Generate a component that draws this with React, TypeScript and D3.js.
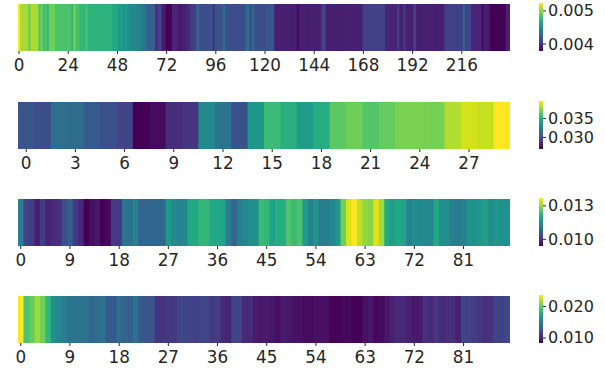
import { scaleBand, scaleLinear, scaleSequential, interpolateViridis, range } from "d3";

const rowA = [
  .00524,.00505,.00505,.00505,.00505,.00489,.00505,.00505,.00505,.00505,
  .00483,.00495,.00478,.00486,.00475,.00492,.00492,.00492,.00483,.00483,
  .00483,.00483,.00483,.00483,.00483,.00483,.00475,.00495,.00481,.00481,
  .00475,.00475,.00475,.00483,.00473,.00473,.00473,.00473,.00473,.00473,
  .00473,.00473,.00473,.00473,.00473,.00473,.00466,.00466,.00466,.00454,
  .00463,.00452,.00460,.00452,.00449,.00447,.00446,.00445,.00444,.00443,
  .00437,.00437,.00428,.00423,.00423,.00423,.00423,.00396,.00408,.00408,
  .00390,.00390,.00379,.00379,.00379,.00394,.00394,.00394,.00388,.00388,
  .00392,.00392,.00396,.00396,.00405,.00405,.00405,.00430,.00414,.00414,
  .00414,.00414,.00414,.00414,.00414,.00399,.00417,.00417,.00417,.00417,
  .00431,.00414,.00414,.00414,.00414,.00414,.00414,.00414,.00414,.00414,
  .00414,.00431,.00431,.00408,.00431,.00414,.00414,.00414,.00414,.00414,
  .00414,.00417,.00417,.00417,.00417,.00392,.00392,.00392,.00392,.00392,
  .00392,.00392,.00392,.00392,.00392,.00392,.00383,.00392,.00392,.00392,
  .00392,.00392,.00392,.00392,.00392,.00392,.00392,.00392,.00408,.00408,
  .00392,.00392,.00392,.00392,.00392,.00392,.00392,.00392,.00392,.00392,
  .00392,.00392,.00392,.00392,.00392,.00392,.00392,.00392,.00407,.00407,
  .00407,.00407,.00407,.00407,.00407,.00407,.00407,.00407,.00407,.00394,
  .00394,.00394,.00394,.00394,.00394,.00408,.00392,.00392,.00405,.00392,
  .00392,.00392,.00392,.00411,.00392,.00392,.00392,.00392,.00392,.00392,
  .00392,.00392,.00392,.00392,.00392,.00392,.00392,.00392,.00407,.00407,
  .00407,.00407,.00407,.00407,.00407,.00407,.00407,.00425,.00408,.00408,
  .00408,.00394,.00394,.00394,.00394,.00394,.00382,.00390,.00390,.00390,
  .00380,.00380,.00380,.00380,.00380,.00380,.00380,.00380,.00392,.00392,
];

const rowB = [
  .03023,.02997,.03151,.03138,.03048,.0301,.02946,.0269,.02728,.02856,
  .02882,.03292,.03176,.0301,.03368,.0356,.03496,.03394,.03484,.0365,
  .03688,.03624,.03663,.03714,.03714,.03701,.03816,.0388,.03855,.0397,
];

const rowC = [
  .01121,.01026,.01017,.00974,.01017,.00983,.00992,.0100,.01043,.01069,
  .01009,.00992,.0094,.00957,.00966,.0094,.00949,.01013,.01013,.01103,
  .01103,.01129,.01078,.01078,.01082,.01082,.01086,.01172,.01146,.01134,
  .01138,.01198,.01198,.01224,.01224,.01198,.01198,.01189,.01121,.01078,
  .01121,.01138,.01155,.01155,.01232,.01224,.01189,.01207,.01207,.0125,
  .01232,.0125,.01177,.01129,.01164,.01121,.01121,.01138,.01164,.01275,
  .01344,.0137,.01327,.01301,.01293,.01349,.0131,.01198,.01181,.01198,
  .01189,.01134,.01151,.01142,.01142,.01142,.01198,.01155,.01155,.01125,
  .01116,.01125,.01160,.01160,.01168,.01181,.01155,.01164,.01160,.01160,
];

const rowD = [
  .0237,.01942,.02003,.02141,.02033,.0185,.01605,.01544,.01483,.01421,
  .01421,.01421,.01406,.01345,.01376,.01421,.01268,.01268,.01376,.0133,
  .01299,.01406,.01268,.01238,.01238,.01070,.01070,.0110,.0108,.01146,
  .01146,.01146,.01131,.01146,.01161,.01100,.01115,.01008,.00993,.01146,
  .01146,.01024,.01024,.00962,.00932,.00947,.00932,.00901,.00947,.00932,
  .00917,.00901,.00886,.00886,.00901,.00901,.00901,.00855,.00855,.00871,
  .00871,.0084,.0084,.00901,.00932,.00871,.00886,.00932,.00978,.01024,
  .01008,.00978,.00947,.00947,.01054,.01008,.01085,.01024,.01054,.01054,
  .00978,.01146,.01131,.01115,.01085,.01054,.0107,.01146,.01131,.01177,
];

const ticksA = [0, 24, 48, 72, 96, 120, 144, 168, 192, 216];
const ticksB = [0, 3, 6, 9, 12, 15, 18, 21, 24, 27];
const ticksC = [0, 9, 18, 27, 36, 45, 54, 63, 72, 81];
const ticksD = [0, 9, 18, 27, 36, 45, 54, 63, 72, 81];

const cbarA = [0.004, 0.005];
const cbarB = [0.03, 0.035];
const cbarC = [0.01, 0.013];
const cbarD = [0.01, 0.02];

const X0 = 18, X1 = 510, CB0 = 539, CB1 = 543;
const FONT = "'DejaVu Sans', sans-serif";

function HeatRow({ values, ticks, cbar, fmt, top, bottom, vmin, vmax }:
  { values: number[]; ticks: number[]; cbar: number[]; fmt: (v: number) => string;
    top: number; bottom: number; vmin: number; vmax: number }) {
  const scaleX = scaleBand<number>().domain(range(values.length)).range([X0, X1]);
  const color = scaleSequential(interpolateViridis).domain([vmin, vmax]);
  const cbTop = top - 1;
  const scaleC = scaleLinear().domain([vmin, vmax]).range([bottom, cbTop]);
  const steps = range(bottom - cbTop);
  return (
    <g>
      {/* each cell runs 1.5px under the next one so no white seams show */}
      {values.map((v, i) => (
        <rect key={i} x={scaleX(i)} y={top} width={scaleX.bandwidth() + (i < values.length - 1 ? 1.5 : 0)} height={bottom - top}
          fill={color(v)} />
      ))}
      {ticks.map(t => {
        const x = (scaleX(t) ?? 0) + scaleX.bandwidth() / 2;
        return (
          <g key={t} transform={`translate(${x},${bottom})`}>
            <line y2={3} stroke="#262626" strokeWidth={1} />
            <text y={19.5} textAnchor="middle" fontSize={16.8} fontFamily={FONT} fill="#262626">{t}</text>
          </g>
        );
      })}
      {steps.map(s => (
        <rect key={s} x={CB0} y={cbTop + s} width={CB1 - CB0} height={1.2}
          fill={color(scaleC.invert(cbTop + s + 0.5))} shapeRendering="crispEdges" />
      ))}
      {cbar.map(t => (
        <g key={t} transform={`translate(${CB1},${scaleC(t)})`}>
          <line x2={3} stroke="#262626" strokeWidth={1} />
          <text x={5} dominantBaseline="central" fontSize={16} fontFamily={FONT} fill="#262626">{fmt(t)}</text>
        </g>
      ))}
    </g>
  );
}

export default function App() {
  const f3 = (v: number) => v.toFixed(3);
  return (
    <svg width={605} height={373} viewBox="0 0 605 373"
      style={{ position: "absolute", left: 0, top: 0, background: "#fff" }}>
      <HeatRow values={rowA} ticks={ticksA} cbar={cbarA} fmt={f3} top={4} bottom={51} vmin={0.00379} vmax={0.00524} />
      <HeatRow values={rowB} ticks={ticksB} cbar={cbarB} fmt={f3} top={102} bottom={149} vmin={0.0269} vmax={0.0397} />
      <HeatRow values={rowC} ticks={ticksC} cbar={cbarC} fmt={f3} top={199} bottom={246} vmin={0.0094} vmax={0.0137} />
      <HeatRow values={rowD} ticks={ticksD} cbar={cbarD} fmt={f3} top={296} bottom={343} vmin={0.0084} vmax={0.0237} />
    </svg>
  );
}
